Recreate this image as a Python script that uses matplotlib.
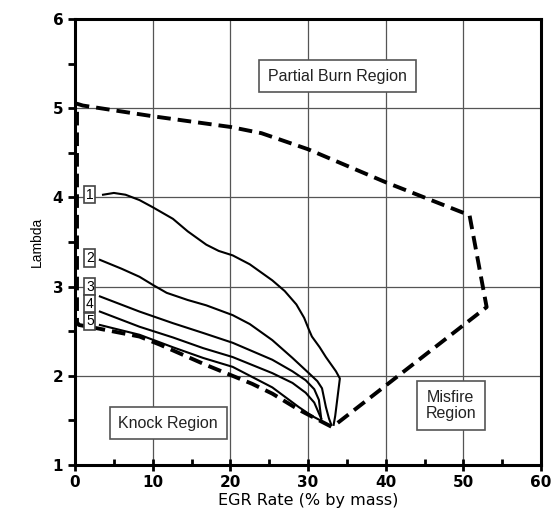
import matplotlib
matplotlib.use("Agg")
import matplotlib.pyplot as plt
from matplotlib.ticker import MultipleLocator

# EGR rate (% by mass) vs lambda for the five operating limit curves
c1_x = [3.6, 5, 6.5, 8.3, 10, 12.6, 14.5, 16.9, 18.5, 20.3, 22.5, 25.4, 27, 28.5, 29.5, 30.1, 30.5, 31.5, 32.3, 33.6, 34.1, 33.8, 33.5, 33.3]
c1_y = [4.03, 4.05, 4.03, 3.97, 3.89, 3.76, 3.62, 3.47, 3.40, 3.35, 3.25, 3.07, 2.95, 2.80, 2.65, 2.52, 2.44, 2.32, 2.21, 2.05, 1.97, 1.76, 1.55, 1.45]
c2_x = [3.2, 6, 8.3, 10, 11.8, 14.5, 16.9, 20.3, 22.5, 25.4, 28, 30.1, 31.2, 31.8, 32.3, 32.7, 33.0]
c2_y = [3.30, 3.20, 3.11, 3.02, 2.93, 2.85, 2.79, 2.68, 2.58, 2.40, 2.20, 2.03, 1.94, 1.86, 1.65, 1.52, 1.45]
c3_x = [3.2, 8.3, 12.6, 16.5, 20.3, 25.4, 28, 29.7, 30.8, 31.4, 31.7]
c3_y = [2.89, 2.72, 2.59, 2.48, 2.37, 2.18, 2.05, 1.95, 1.85, 1.73, 1.52]
c4_x = [3.2, 8.3, 12.6, 16.5, 20.3, 25.4, 28, 29.7, 30.8, 31.4, 31.7]
c4_y = [2.72, 2.55, 2.43, 2.31, 2.21, 2.03, 1.92, 1.81, 1.70, 1.58, 1.52]
c5_x = [3.2, 8.3, 12.6, 16.5, 20.3, 25.4, 28.8, 30.5, 31.6]
c5_y = [2.57, 2.46, 2.32, 2.20, 2.10, 1.87, 1.65, 1.55, 1.50]
curve_x = [c1_x, c2_x, c3_x, c4_x, c5_x]
curve_y = [c1_y, c2_y, c3_y, c4_y, c5_y]
curve_labels = ["1", "2", "3", "4", "5"]
label_y = [4.03, 3.32, 3.00, 2.81, 2.61]

# dashed boundary of the operating region
bound_x = [33.0, 31, 28.8, 25.4, 22.8, 16.9, 10.9, 8.3, 3, 0.5, 0.25, 0.25, 1, 10, 20, 24, 30, 40, 50.8, 53, 33.2]
bound_y = [1.43, 1.52, 1.62, 1.80, 1.91, 2.12, 2.35, 2.44, 2.53, 2.57, 2.6, 5.05, 5.03, 4.91, 4.79, 4.72, 4.54, 4.17, 3.80, 2.77, 1.43]

regions = ["Partial Burn Region", "Knock Region", "Misfire\nRegion"]
region_x = [33.8, 12.0, 48.4]
region_y = [5.36, 1.47, 1.67]

fig = plt.figure(figsize=(5.56, 5.21), dpi=100)
ax = fig.add_axes([0.135, 0.1075, 0.838, 0.856])

ax.set_xlim(0, 60)
ax.set_ylim(1, 6)
ax.xaxis.set_major_locator(MultipleLocator(10))
ax.xaxis.set_minor_locator(MultipleLocator(5))
ax.yaxis.set_major_locator(MultipleLocator(1))
ax.yaxis.set_minor_locator(MultipleLocator(0.5))
ax.grid(True, which="major", color="#555555", linewidth=0.9)
ax.set_axisbelow(True)

for s in ax.spines.values():
    s.set_linewidth(2.2)
ax.tick_params(axis="x", which="major", direction="inout", length=8, width=2)
ax.tick_params(axis="x", which="minor", direction="in", length=4, width=2)
ax.tick_params(axis="y", which="both", direction="out", length=5, width=2)
for lab in ax.get_xticklabels() + ax.get_yticklabels():
    lab.set_fontweight("bold")
    lab.set_fontsize(11)

for xs, ys in zip(curve_x, curve_y):
    ax.plot(xs, ys, color="black", linewidth=1.5)

ax.plot(bound_x, bound_y, color="black", linewidth=2.8, dashes=(3.5, 1.8), clip_on=False)

for lab, ly in zip(curve_labels, label_y):
    ax.text(1.9, ly, lab, ha="center", va="center", fontsize=10, family="Liberation Sans",
            bbox=dict(boxstyle="square,pad=0.12", facecolor="white", edgecolor="#444444", linewidth=1.2))

for txt, rx, ry in zip(regions, region_x, region_y):
    ax.text(rx, ry, txt, ha="center", va="center", fontsize=11.5, family="Liberation Sans",
            color="#222222", linespacing=1.1,
            bbox=dict(boxstyle="square,pad=0.55", facecolor="white", edgecolor="#555555", linewidth=1.2))

ax.set_xlabel("EGR Rate (% by mass)", fontsize=11.5, labelpad=2)
ax.set_ylabel("Lambda", fontsize=10, family="Liberation Sans", labelpad=6)

fig.savefig("out.png", dpi=100)
